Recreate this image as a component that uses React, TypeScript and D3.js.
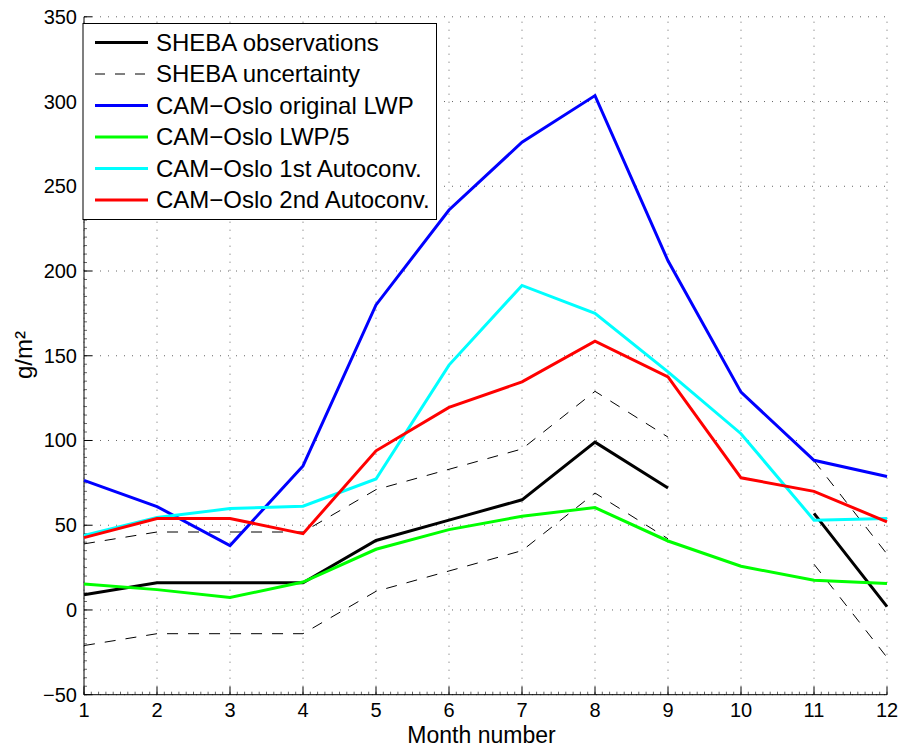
import React from "react";
import * as d3 from "d3";

const months = [1, 2, 3, 4, 5, 6, 7, 8, 9, 10, 11, 12];
const shebaObs: (number | null)[] = [9, 16, 16, 16, 41, 53, 65, 99, 72, null, 57, 2];
const shebaUpper: (number | null)[] = [39, 46, 46, 46, 71, 83, 95, 129, 102, null, 88, 33];
const shebaLower: (number | null)[] = [-21, -14, -14, -14, 11, 23, 35, 69, 42, null, 27, -28];
const camOriginal = [76.5, 61, 38, 85, 180, 236, 276, 303.5, 206, 128.5, 88.3, 78.7];
const camLwp5 = [15.3, 12, 7.3, 16.5, 35.8, 47.4, 55.3, 60.4, 40.7, 25.8, 17.5, 15.6];
const camAuto1 = [44, 54.5, 59.8, 61.2, 77.3, 144.5, 191.5, 175, 140.5, 104, 53, 54];
const camAuto2 = [42.7, 54, 54, 45, 93.9, 119.5, 134.6, 158.6, 137.5, 78, 70, 52];

const yTicks = [-50, 0, 50, 100, 150, 200, 250, 300, 350];
const legendLabels = [
  "SHEBA observations",
  "SHEBA uncertainty",
  "CAM\u2212Oslo original LWP",
  "CAM\u2212Oslo LWP/5",
  "CAM\u2212Oslo 1st Autoconv.",
  "CAM\u2212Oslo 2nd Autoconv.",
];

const FONT = "'Liberation Sans', Arial, Helvetica, sans-serif";

export default function App() {
  const left = 84, right = 887, top = 16.8, bottom = 694.7;
  const x = d3.scaleLinear().domain([1, 12]).range([left, right]);
  const y = d3.scaleLinear().domain([-50, 350]).range([bottom, top]);

  const line = d3
    .line<[number, number | null]>()
    .defined((d) => d[1] !== null)
    .x((d) => x(d[0]))
    .y((d) => y(d[1] as number));

  const mk = (vals: (number | null)[]) =>
    line(months.map((m, i) => [m, vals[i]] as [number, number | null])) || "";

  const series = [
    { vals: shebaObs, color: "#000", w: 3, dash: undefined as string | undefined },
    { vals: shebaUpper, color: "#000", w: 1, dash: "11,10" },
    { vals: shebaLower, color: "#000", w: 1, dash: "11,10" },
    { vals: camOriginal, color: "#0000ff", w: 3, dash: undefined },
    { vals: camLwp5, color: "#00ff00", w: 3, dash: undefined },
    { vals: camAuto1, color: "#00ffff", w: 3, dash: undefined },
    { vals: camAuto2, color: "#ff0000", w: 3, dash: undefined },
  ];

  const legendItems = [
    { color: "#000", w: 3, dash: undefined as string | undefined },
    { color: "#000", w: 1, dash: "10,10" },
    { color: "#0000ff", w: 3, dash: undefined },
    { color: "#00ff00", w: 3, dash: undefined },
    { color: "#00ffff", w: 3, dash: undefined },
    { color: "#ff0000", w: 3, dash: undefined },
  ];

  const yMinor = d3.range(-50, 350.001, 5);
  const xMinor = d3.range(1, 12.0001, 0.1);

  return (
    <svg
      width={900}
      height={748}
      style={{ position: "absolute", left: 0, top: 0, background: "#fff" }}
      fontFamily={FONT}
    >
      <rect x={0} y={0} width={900} height={748} fill="#fff" />
      {/* grid */}
      {months.map((m) => (
        <line key={"gx" + m} x1={x(m)} x2={x(m)} y1={bottom} y2={top} stroke="#666" strokeWidth={1} strokeDasharray="1,7" />
      ))}
      {yTicks.map((t) => (
        <line key={"gy" + t} x1={left} x2={right} y1={y(t)} y2={y(t)} stroke="#666" strokeWidth={1} strokeDasharray="1,7" />
      ))}
      {/* minor ticks */}
      {yMinor.map((t) => (
        <line key={"my" + t} x1={left} x2={left + 3} y1={y(t)} y2={y(t)} stroke="#666" strokeWidth={1} />
      ))}
      {xMinor.map((t, i) => (
        <line key={"mx" + i} x1={x(t)} x2={x(t)} y1={bottom} y2={bottom - 3} stroke="#666" strokeWidth={1} />
      ))}
      {/* major ticks */}
      {yTicks.map((t) => (
        <line key={"ty" + t} x1={left} x2={left + 8} y1={y(t)} y2={y(t)} stroke="#000" strokeWidth={1} />
      ))}
      {months.map((m) => (
        <line key={"tx" + m} x1={x(m)} x2={x(m)} y1={bottom} y2={bottom - 8} stroke="#000" strokeWidth={1} />
      ))}
      {/* axes */}
      <line x1={left} x2={left} y1={top} y2={bottom} stroke="#000" strokeWidth={1} />
      <line x1={left} x2={right} y1={bottom} y2={bottom} stroke="#000" strokeWidth={1} />
      {/* data */}
      {series.map((s, i) => (
        <path key={"s" + i} d={mk(s.vals)} fill="none" stroke={s.color} strokeWidth={s.w} strokeDasharray={s.dash} strokeLinejoin="miter" />
      ))}
      {/* tick labels */}
      {yTicks.map((t) => (
        <text key={"ly" + t} x={left - 7} y={y(t)} dy="0.35em" textAnchor="end" fontSize={20} fill="#000">
          {t < 0 ? "\u2212" + Math.abs(t) : t}
        </text>
      ))}
      {months.map((m) => (
        <text key={"lx" + m} x={x(m)} y={bottom + 22.5} textAnchor="middle" fontSize={20} fill="#000">
          {m}
        </text>
      ))}
      <text x={481.5} y={743} textAnchor="middle" fontSize={23} fill="#000">
        Month number
      </text>
      <text transform={`translate(32, 355) rotate(-90)`} textAnchor="middle" fontSize={24} fill="#000">
        g/m²
      </text>
      {/* legend */}
      <rect x={83} y={23.5} width={353.5} height={196} fill="#fff" stroke="#000" strokeWidth={1} />
      {legendLabels.map((lab, i) => {
        const cy = 42.5 + i * 31.5;
        const it = legendItems[i];
        return (
          <g key={"lg" + i}>
            <line x1={95} x2={148} y1={cy} y2={cy} stroke={it.color} strokeWidth={it.w} strokeDasharray={it.dash} />
            <text x={156} y={cy} dy="0.35em" fontSize={24} fill="#000">
              {lab}
            </text>
          </g>
        );
      })}
    </svg>
  );
}
